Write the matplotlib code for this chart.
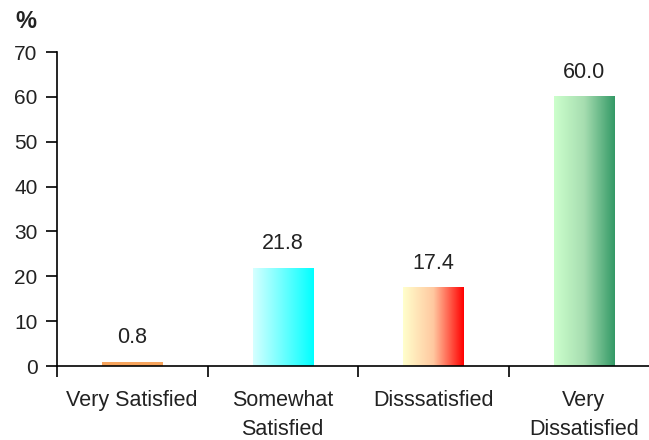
import matplotlib.pyplot as plt
import numpy as np
from matplotlib.colors import LinearSegmentedColormap

plt.rcParams['font.family'] = ['Liberation Sans', 'DejaVu Sans']

categories = ['Very Satisfied', 'Somewhat\nSatisfied', 'Disssatisfied', 'Very\nDissatisfied']
values = [0.8, 21.8, 17.4, 60.0]
gradients = [
    ['#F7A45C', '#F7A45C'],
    ['#D6FFFF', '#00FFFF'],
    ['#FFFFCC', '#FFC8A0', '#FF0000'],
    ['#CCFFCC', '#A6DDB0', '#339966'],
]

fig = plt.figure(figsize=(6.49, 4.40), dpi=100)
ax = fig.add_axes([57 / 649, 74 / 440, 1 - 57 / 649, 314 / 440])

width = 0.4
grad = np.linspace(0, 1, 256).reshape(1, -1)
for i, (v, cols) in enumerate(zip(values, gradients)):
    x0 = i + 0.5 - width / 2
    cmap = LinearSegmentedColormap.from_list('g%d' % i, cols)
    ax.imshow(grad, cmap=cmap, extent=[x0, x0 + width, 0, v], aspect='auto', zorder=2)
    ax.text(i + 0.5, v + 3.2, '%.1f' % v, ha='center', va='bottom', fontsize=15.5, color='#222222')

ax.set_xlim(0, 592 / 150.5)
ax.set_ylim(0, 70)
ax.set_yticks(range(0, 71, 10))
ax.set_xticks([0, 1, 2, 3])
ax.set_xticklabels([])
ax.set_xticks([i + 0.5 for i in range(4)], minor=True)
ax.set_xticklabels(categories, minor=True, fontsize=15.5, color='#222222', linespacing=1.5)
ax.tick_params(axis='x', which='major', length=8, direction='out', width=1.2)
ax.tick_params(axis='x', which='minor', length=0, pad=17)
ax.tick_params(axis='y', length=8, width=1.2, labelsize=15, labelcolor='#222222', pad=6)

for s in ['top', 'right']:
    ax.spines[s].set_visible(False)
ax.spines['left'].set_linewidth(1.2)
ax.spines['bottom'].set_linewidth(1.2)

fig.text(15 / 649, 1 - 22 / 440, '%', fontsize=17, fontweight='bold', va='center', color='#222222')

fig.savefig('out.png', dpi=100)
